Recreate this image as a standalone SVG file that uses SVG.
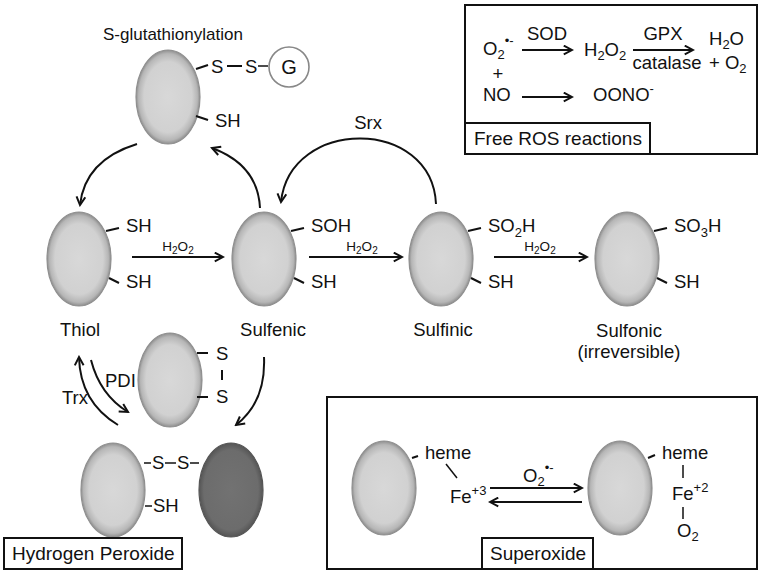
<svg xmlns="http://www.w3.org/2000/svg" width="762" height="574" viewBox="0 0 762 574">
<style>
text{font-family:"Liberation Sans",Arial,sans-serif;fill:#111}
.t{font-size:18.5px}
.s{font-size:13.5px}
.b{font-size:19px}
.sub{font-size:13px}
.ln{stroke:#111;stroke-width:2;fill:none}
.ar{stroke:#111;stroke-width:2;fill:none;marker-end:url(#ah)}
.pr{fill:url(#g1);stroke:#8f8f8f;stroke-width:1.2}
.dk{fill:url(#g2);stroke:#555;stroke-width:1.2}
.box{fill:none;stroke:#111;stroke-width:2}
</style>
<defs>
<radialGradient id="g1" cx="0.5" cy="0.5" r="0.5">
<stop offset="0" stop-color="#d8d8d8"/><stop offset="0.75" stop-color="#d1d1d1"/><stop offset="0.92" stop-color="#b6b6b6"/><stop offset="1" stop-color="#8e8e8e"/>
</radialGradient>
<radialGradient id="g2" cx="0.5" cy="0.5" r="0.5">
<stop offset="0" stop-color="#727272"/><stop offset="0.85" stop-color="#6c6c6c"/><stop offset="1" stop-color="#555"/>
</radialGradient>
<marker id="ah" viewBox="0 0 10 10" refX="8.5" refY="5" markerWidth="11" markerHeight="11" markerUnits="userSpaceOnUse" orient="auto">
<path d="M1,1 L8.5,5 L1,9" fill="none" stroke="#111" stroke-width="1.8"/>
</marker>
</defs>

<g id="glutathionylation">
<text x="103" y="40" style="font-size:17px">S-glutathionylation</text>
<ellipse class="pr" cx="168" cy="97" rx="32" ry="47"/>
<line class="ln" x1="196" y1="69" x2="208" y2="65"/>
<text class="t" x="211" y="73">S</text>
<line class="ln" x1="227" y1="66" x2="242" y2="66"/>
<text class="t" x="245" y="73">S</text>
<line class="ln" x1="258" y1="66" x2="268" y2="66" style="stroke-width:1.5"/>
<circle cx="289" cy="67" r="20" fill="#fff" stroke="#888" stroke-width="1.6"/>
<text x="289" y="74" text-anchor="middle" style="font-size:20px">G</text>
<line class="ln" x1="196" y1="116" x2="208" y2="120"/>
<text class="t" x="215" y="127">SH</text>
</g>

<g id="thiol">
<ellipse class="pr" cx="79" cy="259" rx="32" ry="47"/>
<line class="ln" x1="106" y1="231" x2="119" y2="228"/>
<text class="t" x="126" y="232">SH</text>
<line class="ln" x1="109" y1="278" x2="119" y2="283"/>
<text class="t" x="126" y="288">SH</text>
<text class="t" x="80" y="336" text-anchor="middle">Thiol</text>
</g>

<g id="sulfenic">
<ellipse class="pr" cx="264" cy="259" rx="32" ry="47"/>
<line class="ln" x1="291" y1="231" x2="304" y2="228"/>
<text class="t" x="311" y="232">SOH</text>
<line class="ln" x1="294" y1="278" x2="304" y2="283"/>
<text class="t" x="311" y="288">SH</text>
<text class="t" x="273" y="336" text-anchor="middle">Sulfenic</text>
</g>

<g id="sulfinic">
<ellipse class="pr" cx="441" cy="259" rx="32" ry="47"/>
<line class="ln" x1="468" y1="231" x2="481" y2="228"/>
<text class="t" x="488" y="232">SO<tspan class="sub" dy="5">2</tspan><tspan dy="-5">H</tspan></text>
<line class="ln" x1="471" y1="278" x2="481" y2="283"/>
<text class="t" x="488" y="288">SH</text>
<text class="t" x="443" y="336" text-anchor="middle">Sulfinic</text>
</g>

<g id="sulfonic">
<ellipse class="pr" cx="627" cy="259" rx="32" ry="47"/>
<line class="ln" x1="654" y1="231" x2="667" y2="228"/>
<text class="t" x="674" y="232">SO<tspan class="sub" dy="5">3</tspan><tspan dy="-5">H</tspan></text>
<line class="ln" x1="657" y1="278" x2="667" y2="283"/>
<text class="t" x="674" y="288">SH</text>
<text class="t" x="629" y="337" text-anchor="middle">Sulfonic</text>
<text class="t" x="629" y="358" text-anchor="middle">(irreversible)</text>
</g>

<g id="pdi-disulfide">
<ellipse class="pr" cx="170" cy="380" rx="32" ry="47"/>
<line class="ln" x1="197" y1="353" x2="208" y2="353"/>
<text class="t" x="216" y="360">S</text>
<line class="ln" x1="222" y1="370" x2="222" y2="380"/>
<line class="ln" x1="197" y1="397" x2="208" y2="397"/>
<text class="t" x="216" y="403">S</text>
</g>

<g id="mixed-disulfide">
<ellipse class="pr" cx="113" cy="490" rx="32" ry="47"/>
<ellipse class="dk" cx="231" cy="490" rx="32" ry="47"/>
<line class="ln" x1="144" y1="463" x2="151" y2="463" style="stroke-width:1.5"/>
<text class="t" x="152" y="469">S</text>
<line class="ln" x1="165" y1="463" x2="176" y2="463" style="stroke-width:1.5"/>
<text class="t" x="177" y="469">S</text>
<line class="ln" x1="190" y1="463" x2="199" y2="463" style="stroke-width:1.5"/>
<line class="ln" x1="145" y1="506" x2="152" y2="506" style="stroke-width:1.5"/>
<text class="t" x="153" y="512">SH</text>
</g>

<g id="hydrogen-peroxide-label">
<rect class="box" x="4" y="538" width="178" height="31"/>
<text class="b" x="12" y="560">Hydrogen Peroxide</text>
</g>

<g id="connectors">
<path class="ar" d="M137,144 Q85,160 80,205"/>
<path class="ar" d="M260,208 Q258,165 212,148"/>
<path class="ar" d="M436,204 C432,117 290,117 281,202"/>
<line class="ar" x1="132" y1="257" x2="223" y2="257"/>
<line class="ar" x1="309" y1="257" x2="402" y2="257"/>
<line class="ar" x1="494" y1="257" x2="587" y2="257"/>
<path class="ar" d="M118,425 Q80,402 79,357"/>
<path class="ar" d="M91,360 Q100,395 128,412"/>
<path class="ar" d="M264,357 Q266,402 236,425"/>
</g>

<g id="connector-labels">
<text class="t" x="368" y="129" text-anchor="middle">Srx</text>
<text class="s" x="178" y="251" text-anchor="middle">H<tspan style="font-size:10px" dy="3">2</tspan><tspan dy="-3">O</tspan><tspan style="font-size:10px" dy="3">2</tspan></text>
<text class="s" x="362" y="251" text-anchor="middle">H<tspan style="font-size:10px" dy="3">2</tspan><tspan dy="-3">O</tspan><tspan style="font-size:10px" dy="3">2</tspan></text>
<text class="s" x="540" y="251" text-anchor="middle">H<tspan style="font-size:10px" dy="3">2</tspan><tspan dy="-3">O</tspan><tspan style="font-size:10px" dy="3">2</tspan></text>
<text class="t" x="105" y="387">PDI</text>
<text class="t" x="62" y="404">Trx</text>
</g>

<g id="free-ros">
<rect class="box" x="465" y="5" width="292" height="149"/>
<rect class="box" x="465" y="123" width="185" height="31"/>
<text class="b" x="474" y="145">Free ROS reactions</text>
<text class="t" x="483" y="55">O<tspan class="sub" dy="4">2</tspan><tspan class="sub" dy="-14">•-</tspan></text>
<text class="t" x="498" y="80" text-anchor="middle">+</text>
<text class="t" x="483" y="101">NO</text>
<text class="t" x="547" y="40" text-anchor="middle">SOD</text>
<line class="ar" x1="522" y1="50" x2="572" y2="50"/>
<text class="t" x="584" y="56">H<tspan class="sub" dy="4">2</tspan><tspan dy="-4">O</tspan><tspan class="sub" dy="4">2</tspan></text>
<text class="t" x="663" y="40" text-anchor="middle">GPX</text>
<line class="ar" x1="633" y1="50" x2="693" y2="50"/>
<text class="t" x="667" y="69" text-anchor="middle">catalase</text>
<text class="t" x="709" y="45">H<tspan class="sub" dy="4">2</tspan><tspan dy="-4">O</tspan></text>
<text class="t" x="709" y="69">+ O<tspan class="sub" dy="4">2</tspan></text>
<line class="ar" x1="522" y1="97" x2="572" y2="97"/>
<text class="t" x="593" y="101">OONO<tspan class="sub" dy="-8">-</tspan></text>
</g>

<g id="superoxide">
<rect class="box" x="327" y="397" width="430" height="172"/>
<rect class="box" x="482" y="538" width="111" height="31"/>
<text class="b" x="490" y="560">Superoxide</text>
<ellipse class="pr" cx="384" cy="488" rx="32" ry="47"/>
<line class="ln" x1="412" y1="458" x2="418" y2="456"/>
<text class="t" x="425" y="459">heme</text>
<line class="ln" x1="446" y1="464" x2="457" y2="478" style="stroke-width:1.5"/>
<text class="t" x="450" y="503">Fe<tspan class="sub" dy="-8">+3</tspan></text>
<line class="ar" x1="490" y1="488" x2="582" y2="488"/>
<line class="ar" x1="582" y1="502" x2="490" y2="502"/>
<text class="t" x="523" y="482">O<tspan class="sub" dy="4">2</tspan><tspan class="sub" dy="-14">•-</tspan></text>
<ellipse class="pr" cx="620" cy="488" rx="32" ry="47"/>
<line class="ln" x1="648" y1="458" x2="655" y2="455"/>
<text class="t" x="662" y="459">heme</text>
<line class="ln" x1="683" y1="465" x2="683" y2="478" style="stroke-width:1.5"/>
<text class="t" x="672" y="500">Fe<tspan class="sub" dy="-8">+2</tspan></text>
<line class="ln" x1="683" y1="507" x2="683" y2="519" style="stroke-width:1.5"/>
<text class="t" x="677" y="537">O<tspan class="sub" dy="4">2</tspan></text>
</g>
</svg>
